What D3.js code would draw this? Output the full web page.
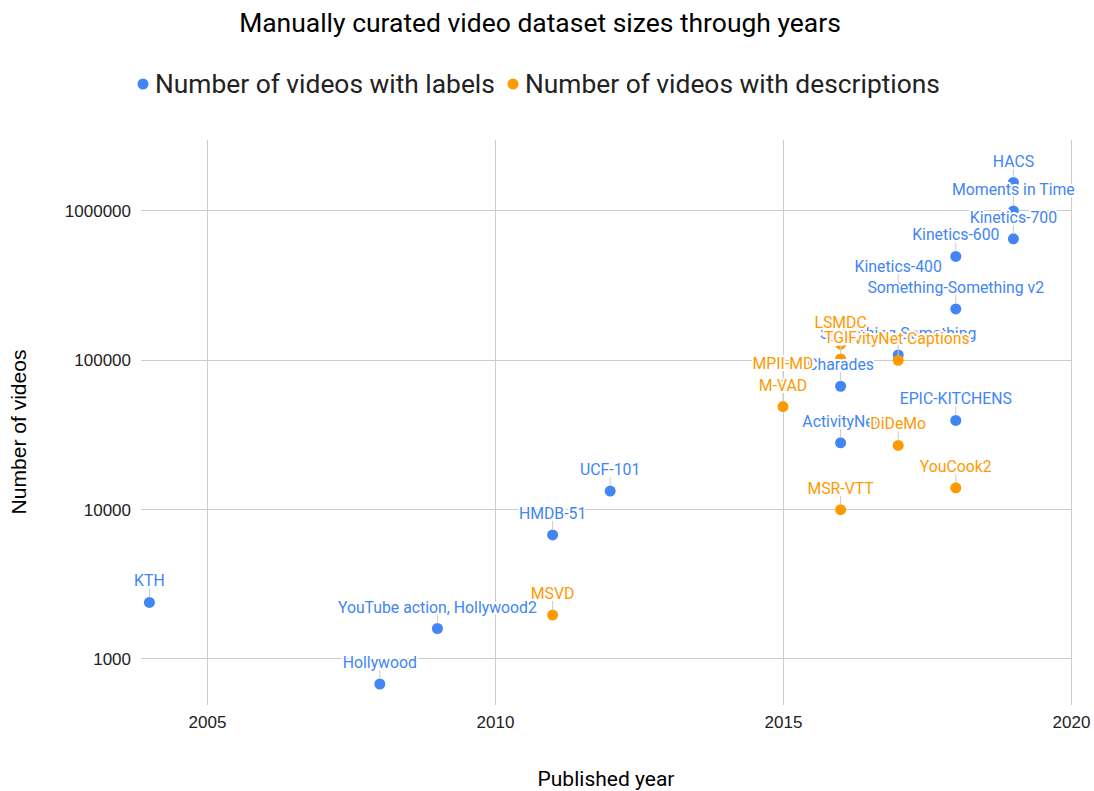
<!DOCTYPE html>
<html><head><meta charset="utf-8">
<script src="https://cdn.jsdelivr.net/npm/d3@7"></script>
<style>body{margin:0;background:#fff}</style>
</head><body>
<script>
// ---- data ----
const labelNames = ["KTH","Hollywood","YouTube action, Hollywood2","HMDB-51","UCF-101","ActivityNet","Charades","Something-Something","Kinetics-400","Something-Something v2","Kinetics-600","EPIC-KITCHENS","Moments in Time","Kinetics-700","HACS"];
const labelYears = [2004,2008,2009,2011,2012,2016,2016,2017,2017,2018,2018,2018,2019,2019,2019];
const labelCounts = [2391,680,1600,6766,13320,28000,67000,108499,306245,220847,495547,39596,1000000,650317,1550000];

const descNames = ["MSVD","MPII-MD","M-VAD","ActivityNet Captions","LSMDC","TGIF","MSR-VTT","DiDeMo","YouCook2"];
const descYears = [2011,2015,2015,2017,2016,2016,2016,2017,2018];
const descCounts = [1970,68337,48986,100000,128118,102068,10000,26892,14000];

const xTicks = [2005,2010,2015,2020];
const yTicks = [1000,10000,100000,1000000];
const seriesNames = ["Number of videos with labels","Number of videos with descriptions"];
const seriesColors = ["#4285f4","#ff9900"];

// ---- layout ----
const W = 1094, H = 791;
const L = 141, R = 1071, T = 140, B = 705;
const svg = d3.select("body").append("svg").attr("width", W).attr("height", H);

const x = d3.scaleLinear().domain([2003.854, 2020]).range([L, R]);
const y = d3.scaleLog().domain([492, 2985000]).range([B, T]);

// fit a text to a target width by scaling its font-size
function fit(sel, target) {
  const w = sel.node().getComputedTextLength();
  const fs = parseFloat(sel.attr("font-size"));
  sel.attr("font-size", (fs * target / w).toFixed(2));
  return sel;
}

// grid
const g = svg.append("g");
g.selectAll(".vg").data(xTicks).join("line")
  .attr("x1", d => x(d)).attr("x2", d => x(d)).attr("y1", T).attr("y2", B)
  .attr("stroke", "#cccccc").attr("stroke-width", 1).attr("shape-rendering","crispEdges");
g.selectAll(".hg").data(yTicks).join("line")
  .attr("x1", L).attr("x2", R).attr("y1", d => y(d)).attr("y2", d => y(d))
  .attr("stroke", "#cccccc").attr("stroke-width", 1).attr("shape-rendering","crispEdges");

// axes (text only)
const xAxis = d3.axisBottom(x).tickValues(xTicks).tickFormat(d3.format("d")).tickSize(0).tickPadding(11);
const xa = svg.append("g").attr("transform", `translate(0,${B})`).call(xAxis);
xa.select(".domain").remove();
xa.selectAll("text").attr("font-family","Liberation Sans, Arial, sans-serif").attr("font-size",17).attr("fill","#222");

const yAxis = d3.axisLeft(y).tickValues(yTicks).tickFormat(d3.format("d")).tickSize(0).tickPadding(10);
const ya = svg.append("g").attr("transform", `translate(${L},0)`).call(yAxis);
ya.select(".domain").remove();
ya.selectAll("text").attr("font-family","Liberation Sans, Arial, sans-serif").attr("font-size",17).attr("fill","#222");

// titles
fit(svg.append("text").attr("x", 540).attr("y", 32).attr("text-anchor","middle")
  .attr("font-family","Roboto, sans-serif").attr("font-size",26).attr("fill","#000")
  .text("Manually curated video dataset sizes through years"), 602);
fit(svg.append("text").attr("x", 606).attr("y", 786).attr("text-anchor","middle")
  .attr("font-family","Roboto, sans-serif").attr("font-size",20).attr("fill","#000")
  .text("Published year"), 137);
fit(svg.append("text").attr("transform","translate(26,432) rotate(-90)").attr("text-anchor","middle")
  .attr("font-family","Liberation Sans, Arial, sans-serif").attr("font-size",21).attr("fill","#000")
  .text("Number of videos"), 165);

// legend
const legX = [143, 513];
const legW = [340, 415];
seriesNames.forEach((n, i) => {
  svg.append("circle").attr("cx", legX[i]).attr("cy", 84).attr("r", 5.5).attr("fill", seriesColors[i]);
  fit(svg.append("text").attr("x", legX[i] + 12).attr("y", 93)
    .attr("font-family","Roboto, sans-serif").attr("font-size",26).attr("fill","#222").text(n), legW[i]);
});

// data
const s1 = labelNames.map((n, i) => ({name: n, year: labelYears[i], v: labelCounts[i], s: 0}));
const s2 = descNames.map((n, i) => ({name: n, year: descYears[i], v: descCounts[i], s: 1}));
const all = s1.concat(s2);

svg.append("g").selectAll("circle").data(all).join("circle")
  .attr("cx", d => x(d.year)).attr("cy", d => y(d.v)).attr("r", 5.5)
  .attr("fill", d => seriesColors[d.s]);

const lg = svg.append("g");
all.forEach(d => {
  const px = x(d.year), py = y(d.v);
  lg.append("line").attr("x1", px).attr("x2", px).attr("y1", py - 5).attr("y2", py - 14)
    .attr("stroke", "#cccccc").attr("stroke-width", 1);
  lg.append("text").attr("x", px).attr("y", py - 16)
    .attr("text-anchor","middle").attr("font-family","Roboto, sans-serif").attr("font-size",15.8)
    .attr("fill", seriesColors[d.s]).attr("stroke","#fff").attr("stroke-width",4)
    .attr("paint-order","stroke").attr("stroke-linejoin","round").text(d.name);
});
</script>
</body></html>
